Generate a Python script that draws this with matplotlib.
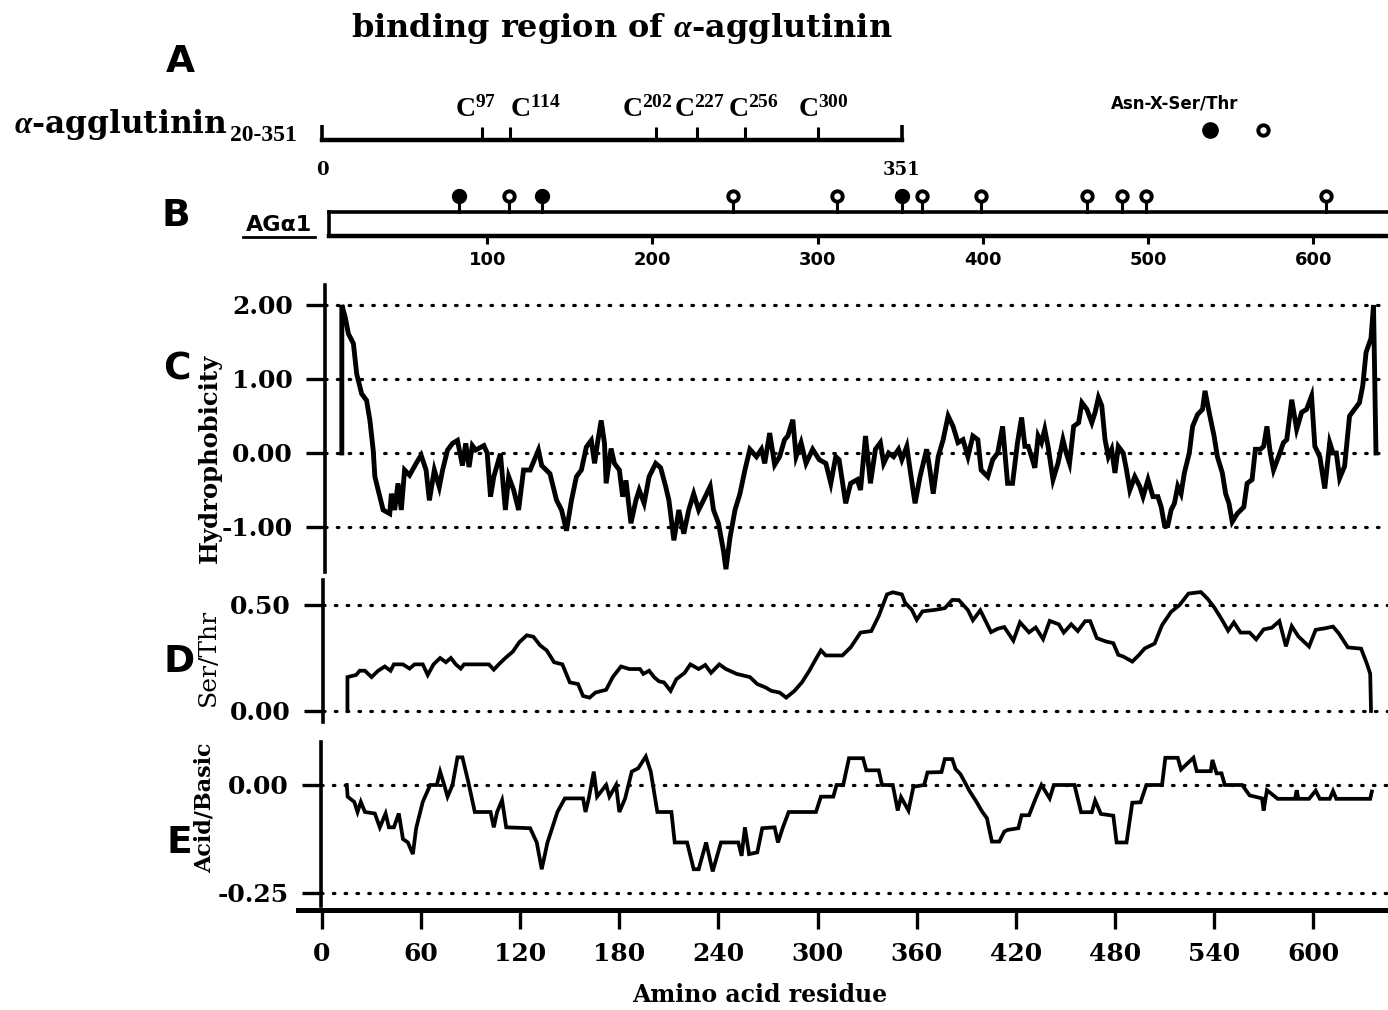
import matplotlib
matplotlib.use("Agg")
import matplotlib.pyplot as plt
from matplotlib.lines import Line2D

# ---------------- data ----------------
cys_pos = [97, 114, 202, 227, 256, 300]
fragment_end = 351
glyco_pos = [83, 113, 133, 249, 312, 351, 363, 399, 463, 484, 499, 608]
glyco_filled = [1, 0, 1, 0, 0, 1, 0, 0, 0, 0, 0, 0]
agal_start, agal_end = 4, 660
agal_ticks = [100, 200, 300, 400, 500, 600]
x_ticks = [0, 60, 120, 180, 240, 300, 360, 420, 480, 540, 600]

hydro_ticks = [2.0, 1.0, 0.0, -1.0]
hydro_labels = ["2.00", "1.00", "0.00", "-1.00"]
serthr_ticks = [0.5, 0.0]
serthr_labels = ["0.50", "0.00"]
acid_ticks = [0.0, -0.25]
acid_labels = ["0.00", "-0.25"]

hydro_res = [12, 12, 14, 16, 19, 21, 24, 27, 29, 31,
             32, 35, 37, 41, 42, 44, 46, 48, 50, 53,
             57, 60, 63, 65, 68, 71, 73, 76, 79, 82,
             85, 87, 89, 91, 93, 98, 100, 102, 104, 108,
             111, 113, 116, 119, 122, 126, 131, 133, 138, 142,
             145, 148, 151, 154, 157, 160, 163, 165, 167, 169,
             171, 172, 175, 177, 180, 182, 184, 187, 190, 192,
             195, 198, 202, 205, 208, 210, 213, 216, 219, 222,
             225, 228, 232, 235, 237, 240, 243, 244.5, 247, 250,
             253, 256, 259, 263, 266, 268, 271, 274, 277, 280,
             282, 285, 287, 290, 293, 297, 301, 305, 308, 311,
             313, 317, 320, 324, 326, 329, 332, 335, 338, 340,
             343, 346, 349, 351, 354, 356, 359, 362, 366, 368,
             370, 373, 376, 379, 382, 385, 388, 391, 394, 397,
             399, 403, 406, 409, 412, 415, 418, 421, 423.5, 425.5,
             427.5, 429.5, 431.5, 433.5, 435.5, 437.5, 439.5, 442.5, 445.5, 448.5,
             450.5, 452.5, 455, 458, 460, 463, 466, 468, 470, 472,
             474, 476, 478, 480, 482, 485, 487, 489, 492, 495,
             497, 500, 503, 506, 508, 510, 512, 514, 516, 518,
             520, 522, 525, 527, 530, 533, 534.5, 537, 540, 542,
             545, 547, 549, 551, 554, 558, 560, 563, 565, 568,
             570, 572, 574, 576, 579, 582, 584, 587, 590, 593,
             596, 599, 601, 604, 607, 610, 612, 614, 616, 619,
             622, 625, 628, 630, 632, 635, 636.5, 638]
hydro_val = [0.0, 2.0, 1.84, 1.61, 1.48, 1.07, 0.80, 0.71, 0.44, 0.04,
             -0.32, -0.59, -0.77, -0.82, -0.55, -0.77, -0.41, -0.77, -0.23, -0.30,
             -0.14, -0.03, -0.23, -0.64, -0.23, -0.46, -0.23, 0.04, 0.13, 0.17,
             -0.17, 0.13, -0.19, 0.10, 0.04, 0.10, 0.0, -0.59, -0.32, -0.01,
             -0.77, -0.32, -0.50, -0.77, -0.23, -0.23, 0.04, -0.17, -0.28, -0.64,
             -0.77, -1.05, -0.64, -0.32, -0.23, 0.08, 0.17, -0.14, 0.17, 0.44,
             0.13, -0.41, 0.06, -0.14, -0.23, -0.59, -0.37, -0.95, -0.64, -0.50,
             -0.68, -0.32, -0.14, -0.20, -0.45, -0.64, -1.18, -0.77, -1.09, -0.77,
             -0.55, -0.77, -0.59, -0.45, -0.77, -0.95, -1.32, -1.57, -1.14, -0.77,
             -0.55, -0.23, 0.05, -0.05, 0.05, -0.14, 0.27, -0.16, -0.05, 0.18,
             0.23, 0.45, -0.05, 0.14, -0.14, 0.05, -0.09, -0.14, -0.41, -0.05,
             -0.09, -0.68, -0.41, -0.36, -0.50, 0.23, -0.41, 0.05, 0.14, -0.14,
             0.0, -0.05, 0.05, -0.09, 0.09, -0.23, -0.68, -0.32, 0.05, -0.23,
             -0.55, -0.05, 0.18, 0.50, 0.36, 0.14, 0.18, -0.05, 0.23, 0.18,
             -0.23, -0.32, -0.09, 0.0, 0.36, -0.41, -0.41, 0.14, 0.48, 0.09,
             0.09, -0.05, -0.20, 0.23, 0.14, 0.32, 0.09, -0.36, -0.14, 0.18,
             0.0, -0.14, 0.36, 0.41, 0.68, 0.59, 0.41, 0.55, 0.75, 0.64,
             0.18, -0.05, 0.05, -0.27, 0.09, 0.0, -0.23, -0.50, -0.32, -0.45,
             -0.59, -0.36, -0.59, -0.59, -0.73, -0.98, -0.98, -0.77, -0.68, -0.45,
             -0.55, -0.27, 0.0, 0.36, 0.52, 0.59, 0.84, 0.55, 0.23, -0.05,
             -0.27, -0.55, -0.68, -0.93, -0.82, -0.73, -0.41, -0.36, 0.05, 0.05,
             0.09, 0.36, 0.0, -0.23, -0.05, 0.14, 0.18, 0.72, 0.32, 0.55,
             0.59, 0.77, 0.09, -0.05, -0.48, 0.14, 0.0, 0.0, -0.34, -0.18,
             0.50, 0.59, 0.68, 0.91, 1.36, 1.55, 2.0, 0.0]

serthr_res = [15.4, 15.4, 20.7, 22.8, 26, 30, 34, 38, 41.5, 43.5,
              49, 53, 56, 61, 64, 67.5, 71.5, 75, 78, 81,
              84, 86, 101, 104, 107, 111, 115.5, 119.5, 124, 128,
              132, 136, 140.5, 145.5, 150, 155, 158, 162, 165.5, 172,
              176, 181, 186, 192.5, 194.5, 198, 201, 204, 207, 211,
              214.5, 219.5, 223, 228, 232, 235.5, 240.5, 244.5, 251, 259,
              263.5, 268.5, 272, 277, 281, 286, 290.5, 295, 299, 302,
              305, 315, 320, 326, 332.5, 337, 342, 345.5, 351, 353,
              357, 360, 363.5, 371, 377, 381.5, 385.5, 391, 394, 398.5,
              405, 409, 413, 418.5, 422.5, 428, 432, 436.5, 440.5, 446,
              449, 453.5, 457.5, 462, 465, 469, 474.5, 479, 482, 485,
              490.5, 494.5, 498, 504, 508.5, 514, 519, 524.5, 532, 536,
              540, 544.5, 548.5, 552, 556, 561.5, 565.5, 570, 575, 579.5,
              583.5, 587, 591, 597.5, 601.5, 607, 612, 615.5, 621, 629,
              632.5, 634.5, 635]
serthr_val = [0.0, 0.16, 0.17, 0.19, 0.19, 0.16, 0.19, 0.21, 0.19, 0.22,
              0.22, 0.20, 0.22, 0.22, 0.17, 0.22, 0.25, 0.23, 0.25, 0.22,
              0.20, 0.22, 0.22, 0.195, 0.22, 0.25, 0.28, 0.325, 0.357, 0.35,
              0.31, 0.286, 0.23, 0.22, 0.135, 0.127, 0.071, 0.063, 0.087, 0.10,
              0.16, 0.21, 0.198, 0.198, 0.175, 0.19, 0.16, 0.14, 0.135, 0.095,
              0.15, 0.18, 0.22, 0.198, 0.217, 0.18, 0.22, 0.198, 0.175, 0.16,
              0.127, 0.111, 0.095, 0.087, 0.063, 0.095, 0.135, 0.19, 0.246, 0.286,
              0.262, 0.262, 0.30, 0.37, 0.377, 0.448, 0.55, 0.56, 0.55, 0.51,
              0.478, 0.43, 0.47, 0.477, 0.485, 0.524, 0.523, 0.476, 0.428, 0.475,
              0.372, 0.388, 0.396, 0.332, 0.418, 0.371, 0.394, 0.339, 0.425, 0.409,
              0.37, 0.409, 0.377, 0.424, 0.424, 0.344, 0.328, 0.32, 0.265, 0.257,
              0.233, 0.264, 0.295, 0.318, 0.405, 0.468, 0.499, 0.554, 0.561, 0.53,
              0.49, 0.434, 0.379, 0.418, 0.37, 0.37, 0.338, 0.385, 0.393, 0.424,
              0.305, 0.40, 0.352, 0.304, 0.383, 0.39, 0.398, 0.366, 0.30, 0.294,
              0.223, 0.176, 0.0]

acid_res = [15, 15.5, 19.5, 21.5, 23.5, 26, 32, 35, 38.5, 40.5,
            43.5, 46.5, 49, 52, 55, 57, 61, 65.5, 69.5, 71.5,
            74, 76, 79, 82, 85, 88.5, 92.5, 102, 104, 106,
            109, 111.5, 126, 130, 133, 136.5, 142.5, 147, 158, 159.5,
            161.5, 164.5, 166.5, 172, 174, 178, 180, 183.5, 187.5, 191.5,
            196, 199, 203, 211.5, 213.5, 221, 225, 228, 232.5, 236.5,
            241.5, 252, 254, 256, 258.5, 263.5, 266.5, 274, 276, 279,
            282.5, 299, 302, 309.5, 311.5, 315.5, 319, 327.5, 329.5, 337,
            339, 345.5, 348.5, 350.5, 355, 358, 364.5, 366.5, 375, 377,
            381.5, 383.5, 386.5, 392, 396, 399.5, 402.5, 405.5, 410, 413,
            415, 421.5, 423.5, 428, 432, 435.5, 440.5, 443, 455.5, 459.5,
            466, 468, 471.5, 479, 481, 487, 490.5, 495.5, 499, 508.5,
            510.5, 518, 520, 527.5, 529.5, 538, 539, 541.5, 544.5, 546.5,
            557, 561.5, 569, 570, 572, 578.5, 589, 590, 591, 597.5,
            601.5, 604, 610, 612, 614, 627, 634.5, 635.5]
acid_val = [0.0, -0.027, -0.039, -0.0625, -0.039, -0.0625, -0.066, -0.098, -0.066, -0.098,
            -0.098, -0.066, -0.125, -0.133, -0.16, -0.10, -0.039, 0.0, 0.0, 0.031,
            0.0, -0.027, 0.0, 0.064, 0.064, 0.008, -0.0625, -0.0625, -0.098, -0.0625,
            -0.035, -0.098, -0.10, -0.133, -0.195, -0.133, -0.0625, -0.031, -0.031, -0.0625,
            -0.031, 0.031, -0.027, 0.0, -0.027, 0.0, -0.0625, -0.031, 0.031, 0.039,
            0.066, 0.031, -0.0625, -0.0625, -0.133, -0.133, -0.195, -0.195, -0.133, -0.20,
            -0.133, -0.133, -0.164, -0.098, -0.16, -0.156, -0.10, -0.098, -0.133, -0.098,
            -0.0625, -0.0625, -0.027, -0.027, 0.0, 0.0, 0.062, 0.062, 0.034, 0.034,
            0.0, 0.0, -0.059, -0.028, -0.059, -0.004, 0.0, 0.029, 0.03, 0.06,
            0.06, 0.037, 0.025, -0.014, -0.038, -0.061, -0.077, -0.131, -0.131, -0.108,
            -0.104, -0.10, -0.07, -0.07, -0.031, 0.0, -0.031, 0.0, 0.0, -0.063,
            -0.063, -0.036, -0.067, -0.071, -0.133, -0.133, -0.041, -0.04, 0.0, 0.0,
            0.063, 0.063, 0.036, 0.063, 0.032, 0.032, 0.058, 0.027, 0.027, 0.0,
            0.0, -0.024, -0.031, -0.059, -0.012, -0.032, -0.032, -0.012, -0.032, -0.032,
            -0.013, -0.032, -0.032, -0.014, -0.032, -0.032, -0.032, -0.015]

# ---------------- layout (pixel positions of the 1388x1010 canvas) ----------------
W, H = 1388, 1010
X0, SX = 322, 1.652   # pixel of residue 0 and pixels per residue
cys_label_dx = [-7, 25, -8, 2, 8, 6]   # label nudges in pixels, as in the original

plt.rcParams["font.family"] = "DejaVu Serif"
plt.rcParams["font.weight"] = "bold"
plt.rcParams["mathtext.fontset"] = "custom"
plt.rcParams["mathtext.rm"] = "Liberation Serif:bold"
plt.rcParams["mathtext.bf"] = "Liberation Serif:bold"
plt.rcParams["mathtext.it"] = "Liberation Serif:italic:bold"


def frac(l, t, r, b):
    return [l / W, 1 - b / H, (r - l) / W, (b - t) / H]


def xlim_px(l, r):
    return ((l - X0) / SX, (r - X0) / SX)


def ylim_px(t, b, v1, p1, v2, p2):
    s = (p2 - p1) / (v1 - v2)
    return (v2 - (b - p2) / s, v1 + (p1 - t) / s)


def fx(px):
    return px / W


def fy(py):
    return 1 - py / H


fig = plt.figure(figsize=(W / 100, H / 100), dpi=100)
fig.patch.set_facecolor("white")


def profile_panel(rect, yref, ticks, labels, res, val, lw):
    l, t, r, b = rect
    ax = fig.add_axes(frac(l, t, r, b))
    ax.patch.set_visible(False)
    ax.set_xlim(*xlim_px(l, r))
    ax.set_ylim(*ylim_px(t, b, *yref))
    for s in ["top", "right", "bottom"]:
        ax.spines[s].set_visible(False)
    ax.spines["left"].set_linewidth(2.6)
    ax.set_xticks([])
    ax.set_yticks(ticks)
    ax.set_yticklabels(labels)
    ax.tick_params(axis="y", direction="out", length=14, width=2.4, pad=9, labelsize=18)
    for v in ticks:
        ax.axhline(v, color="black", lw=2.3, ls=(0, (0.5, 3.2)), dash_capstyle="round")
    ax.plot(res, val, color="black", lw=lw, solid_joinstyle="miter")
    return ax


# C: hydrophobicity
ax_c = profile_panel((325, 285, W, 572), (2.0, 305, -1.0, 527), hydro_ticks, hydro_labels,
                     hydro_res, hydro_val, 3.5)
# D: Ser/Thr
ax_d = profile_panel((323, 580, W, 722), (0.5, 605, 0.0, 711), serthr_ticks, serthr_labels,
                     serthr_res, serthr_val, 2.7)
# E: acid/basic
ax_e = profile_panel((321, 742, W, 906), (0.0, 785, -0.25, 893), acid_ticks, acid_labels,
                     acid_res, acid_val, 2.7)

# bottom residue axis
ax_x = fig.add_axes(frac(298, 870, W, 910))
ax_x.patch.set_visible(False)
ax_x.set_xlim(*xlim_px(298, W))
for s in ["top", "right", "left"]:
    ax_x.spines[s].set_visible(False)
ax_x.spines["bottom"].set_linewidth(3.6)
ax_x.set_yticks([])
ax_x.set_xticks(x_ticks)
ax_x.tick_params(axis="x", direction="out", length=14, width=2.4, pad=9, labelsize=18)

# B: AG alpha 1 bar with glycosylation sites
ax_b = fig.add_axes(frac(325, 180, W, 236))
ax_b.patch.set_visible(False)
ax_b.set_xlim(*xlim_px(325, W))
ax_b.set_ylim(0, (236 - 180) / 24)
for s in ax_b.spines.values():
    s.set_visible(False)
ax_b.set_yticks([])
ax_b.set_xticks(agal_ticks)
ax_b.tick_params(axis="x", direction="out", length=6, width=2.2, pad=5, labelsize=13)
for lab in ax_b.get_xticklabels():
    lab.set_fontfamily("DejaVu Sans")
ax_b.plot([agal_start, agal_end], [1, 1], color="black", lw=2.6, clip_on=False)
ax_b.plot([agal_start, agal_end], [0, 0], color="black", lw=3.2, clip_on=False)
ax_b.plot([agal_start, agal_start], [0, 1], color="black", lw=2.6, clip_on=False)
for pos, filled in zip(glyco_pos, glyco_filled):
    ax_b.plot([pos, pos], [1, 1.45], color="black", lw=2.2)
    if filled:
        ax_b.plot([pos], [1.68], marker="o", ms=10, mew=1, mec="black", mfc="black")
    else:
        ax_b.plot([pos], [1.68], marker="o", ms=7.5, mew=2.8, mec="black", mfc="white")

# A: alpha-agglutinin 20-351 fragment with cysteines
ax_a = fig.add_axes(frac(300, 90, 1000, 185))
ax_a.patch.set_visible(False)
ax_a.set_xlim(*xlim_px(300, 1000))
ax_a.set_ylim(-3.0, 3.33)
ax_a.axis("off")
ax_a.plot([0, fragment_end], [0, 0], color="black", lw=3.2, solid_capstyle="projecting")
ax_a.vlines([0, fragment_end], 0, 1.0, color="black", lw=2.6)
ax_a.vlines(cys_pos, 0, 0.85, color="black", lw=2.2)
for c, dx in zip(cys_pos, cys_label_dx):
    ax_a.annotate("C$^{%d}$" % c, xy=(c, 1.55), xytext=(dx * 0.72, 0),
                  textcoords="offset points", ha="center", va="baseline",
                  fontsize=20, family="Liberation Serif", weight="bold")
ax_a.text(0, -1.4, "0", ha="center", va="top", fontsize=13)
ax_a.text(fragment_end, -1.4, str(fragment_end), ha="center", va="top", fontsize=13)

# texts
fig.text(fx(622), fy(28), r"binding region of $\alpha$-agglutinin", ha="center", va="center",
         fontsize=23)
name = fig.text(fx(14), fy(133), r"$\alpha$-agglutinin", ha="left", va="baseline", fontsize=22.5)
renderer = fig.canvas.get_renderer()
name_right = name.get_window_extent(renderer).x1 / W
fig.text(name_right + 2 / W, fy(141), "20-351", ha="left", va="baseline", fontsize=17,
         family="Liberation Serif", weight="bold")

for letter, (px, py) in zip("ABCDE", [(180, 62), (176, 216), (177, 370), (179, 662), (179, 843)]):
    fig.text(fx(px), fy(py), letter, ha="center", va="center", fontsize=27,
             family="DejaVu Sans", weight="bold")
fig.text(fx(1175), fy(103), "Asn-X-Ser/Thr", ha="center", va="center", fontsize=12,
         family="DejaVu Sans", weight="bold")
fig.add_artist(Line2D([fx(1210)], [fy(130)], marker="o", ms=11, mfc="black", mec="black",
                      mew=1, transform=fig.transFigure))
fig.add_artist(Line2D([fx(1263)], [fy(130)], marker="o", ms=7.5, mfc="white", mec="black",
                      mew=2.8, transform=fig.transFigure))
fig.text(fx(279), fy(225), "AG\u03b11", ha="center", va="center", fontsize=16,
         family="DejaVu Sans", weight="bold")
fig.add_artist(Line2D([fx(243), fx(315)], [fy(237), fy(237)], color="black", lw=2,
                      transform=fig.transFigure))

fig.text(fx(210), fy(458), "Hydrophobicity", rotation=90, ha="center", va="center", fontsize=17.5)
fig.text(fx(208), fy(657), "Ser/Thr", rotation=90, ha="center", va="center", fontsize=18,
         weight="normal")
fig.text(fx(205), fy(808), "Acid/Basic", rotation=90, ha="center", va="center", fontsize=16)
fig.text(fx(760), fy(995), "Amino acid residue", ha="center", va="center", fontsize=17)

fig.savefig("out.png", dpi=100, facecolor="white")
